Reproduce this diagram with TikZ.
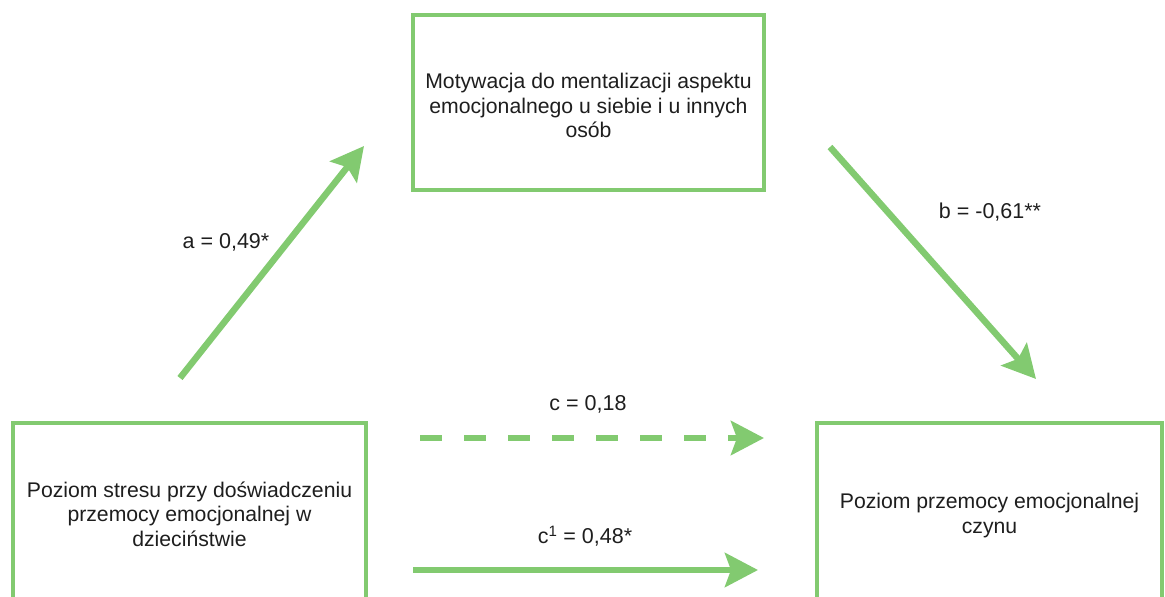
\documentclass[tikz,border=0pt]{standalone}
\usepackage{fontspec}
\setmainfont{Liberation Sans}
\usetikzlibrary{arrows.meta}
\definecolor{boxgreen}{RGB}{130,202,112}
\definecolor{txt}{RGB}{30,30,30}
\tikzset{
  box/.style={draw=boxgreen, line width=4pt, fill=white, align=center, text=txt,
    font=\fontsize{21.2}{24.5}\selectfont, inner sep=0pt},
  conn/.style={draw=boxgreen, line width=6.5pt,
    -{Stealth[length=33pt, width=34pt, inset=6pt]}},
  lbl/.style={text=txt, font=\fontsize{21.5}{24}\selectfont, inner sep=0pt}
}
\begin{document}
\begin{tikzpicture}[x=1pt,y=-1pt]
\useasboundingbox (0,0) rectangle (1165,597);
\begin{scope}
\clip (0,0) rectangle (1165,597);
\node[box, minimum width=351pt, minimum height=175pt] (med) at (588.5,102.5)
  {\raisebox{-6pt}[\height][\depth]{\begin{tabular}{@{}c@{}}Motywacja do mentalizacji aspektu\\emocjonalnego u siebie i u innych\\osób\end{tabular}}};
\node[box, minimum width=353pt, minimum height=182pt] (x) at (189.5,514)
  {Poziom stresu przy doświadczeniu\\przemocy emocjonalnej w\\dzieciństwie};
\node[box, minimum width=345pt, minimum height=182pt] (y) at (989.5,514)
  {\raisebox{-2pt}[\height][\depth]{\begin{tabular}{@{}c@{}}Poziom przemocy emocjonalnej\\czynu\end{tabular}}};
\end{scope}
\coordinate (a1) at (180,378);
\coordinate (a2) at (364,146);
\coordinate (b1) at (830,147);
\coordinate (b2) at (1036,379);
\coordinate (c1) at (420,438);
\coordinate (c2) at (764,438);
\coordinate (d1) at (413,570);
\coordinate (d2) at (758,570);
\draw[conn] (a1) -- (a2);
\draw[conn] (b1) -- (b2);
\draw[conn, dash pattern=on 22pt off 22pt] (c1) -- (c2);
\draw[conn] (d1) -- (d2);
\node[lbl] (la) at (226,242) {a = 0,49*};
\node[lbl] (lb) at (990,212) {b = -0,61**};
\node[lbl] (lc) at (588,404) {c = 0,18};
\node[lbl] (ld) at (585,536) {c\textsuperscript{1} = 0,48*};
\end{tikzpicture}
\end{document}
